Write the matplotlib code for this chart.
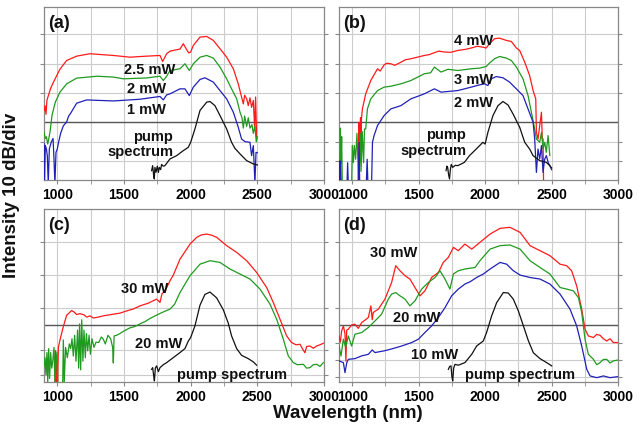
import matplotlib
matplotlib.use("Agg")
import matplotlib.pyplot as plt
import numpy as np

plt.rcParams["font.family"] = ["Liberation Sans", "DejaVu Sans"]
plt.rcParams["font.weight"] = "bold"

# ── Data: (wavelength nm, relative intensity, 0-100 of panel height) ─────────
A_RED = [(900, 40), (907, 43), (915, 38), (922, 46), (932, 48.6), (950, 53), (970, 56.4),
         (1020, 64.1), (1070, 69.1), (1145, 71.6), (1245, 73), (1330, 72.5), (1420, 72),
         (1545, 71), (1670, 71.6), (1770, 72), (1790, 68.5), (1820, 73), (1845, 74.5),
         (1920, 75.7), (1945, 78.8), (1965, 76), (1985, 73.5), (2000, 74), (2020, 77.8),
         (2070, 82.6), (2120, 83), (2170, 80.7), (2220, 75.9), (2270, 71), (2320, 64.3),
         (2357, 55.6), (2382, 47.9), (2395, 44), (2405, 49), (2420, 47), (2432, 43),
         (2445, 47.5), (2457, 42), (2470, 46), (2480, 30), (2487, 48), (2495, 24)]
A_GREEN = [(900, 27.6), (910, 24), (918, 25), (928, 20.8), (945, 27.6), (960, 37.3), (985, 45),
           (1020, 50.8), (1070, 55.6), (1145, 58.9), (1300, 60), (1420, 59.5), (1495, 58.5),
           (1670, 59), (1770, 60), (1795, 57.5), (1820, 60), (1845, 63.3), (1920, 64.3),
           (1957, 67.2), (1990, 63.3), (2020, 67.2), (2070, 71), (2120, 72), (2170, 70.5),
           (2220, 65.3), (2270, 58.5), (2307, 52.7), (2345, 47), (2370, 39.2), (2385, 36),
           (2395, 30), (2405, 37), (2420, 31), (2432, 36), (2445, 30), (2460, 32), (2470, 27),
           (2482, 31), (2492, 22), (2500, 25)]
A_BLUE = [(900, 21), (904, -2), (910, 20), (918, 18), (925, 14), (932, -2), (940, 18), (955, 22),
          (968, 24), (975, 12), (982, -2), (990, 16), (1000, 18), (1010, 22), (1025, 27),
          (1045, 31.3), (1070, 33.6), (1085, 37), (1100, 38.6), (1145, 44.4), (1220, 46.3),
          (1420, 45.7), (1620, 46.7), (1770, 48.3), (1795, 46.3), (1820, 49.2), (1845, 49.8),
          (1920, 52.7), (1957, 52.7), (1990, 48.8), (2020, 53.7), (2070, 58.1), (2107, 59.1),
          (2170, 56.6), (2220, 51.7), (2270, 46.9), (2320, 39.2), (2357, 30.5), (2382, 23.7),
          (2407, 22.2), (2445, 21.8), (2457, 14.1), (2470, 19.9), (2482, -2), (2490, 16),
          (2500, 15.8)]
A_PUMP = [(1707, 5.4), (1715, 8.3), (1722, 3), (1727, 0.6), (1732, 7.3), (1740, 4.5), (1750, 8),
          (1758, 4.4), (1765, 7.3), (1775, 6), (1782, 9), (1795, 8), (1807, 8.3), (1845, 12.2),
          (1895, 14.1), (1945, 17), (1982, 18.9), (2000, 21.8), (2032, 29.5), (2070, 40.2),
          (2120, 45), (2145, 45.4), (2182, 43), (2220, 37.3), (2270, 29.5), (2307, 21.8),
          (2332, 18.3), (2370, 15.1), (2420, 11.2), (2470, 9.3), (2500, 8.7)]

B_RED = [(1045, -3), (1051, 33.4), (1056, 14.1), (1062, 36), (1066, 18), (1069, 35.3),
         (1076, 41.1), (1101, 49.8), (1139, 57.5), (1190, 64.3), (1210, 63), (1240, 66.6),
         (1260, 67.5), (1290, 67.2), (1320, 66.3), (1366, 68.1), (1400, 69.5), (1441, 70.1),
         (1480, 70.8), (1542, 72), (1580, 72.5), (1618, 73.6), (1650, 74.5), (1693, 74),
         (1740, 73.8), (1794, 74.9), (1850, 75.5), (1895, 76.3), (1940, 77.3), (1983, 76.8),
         (2008, 76.3), (2033, 78.8), (2071, 81.7), (2109, 82), (2159, 80.7), (2197, 80.1),
         (2235, 76.3), (2260, 74.9), (2298, 68.1), (2335, 60.4), (2361, 51.7), (2381, 46.9),
         (2386, 27.6), (2398, 23.7), (2411, 31.5), (2424, 39.2), (2430, 24), (2436, 23.7),
         (2440, -3)]
B_GREEN = [(900, -3), (905, -3), (910, 30), (915, 10), (920, 25), (925, -3), (995, -3), (1000, 20),
           (1008, 10), (1015, 20), (1025, 12), (1035, 27), (1045, 5), (1050, -3), (1060, 27),
           (1066, 5), (1075, 28), (1085, 10), (1092, 29.5), (1101, 29.5), (1114, 41.1),
           (1139, 46.9), (1190, 51.7), (1240, 53.7), (1290, 54.2), (1366, 55.6), (1441, 57.5),
           (1542, 61.4), (1590, 62), (1618, 65.3), (1668, 62.4), (1720, 64), (1794, 63.3),
           (1895, 64.3), (1958, 64.7), (2008, 65.6), (2033, 67.6), (2071, 70.1), (2109, 71.4),
           (2159, 70.5), (2197, 69.1), (2235, 65.3), (2285, 58.5), (2323, 48.8), (2348, 39.2),
           (2373, 29.5), (2386, 23.7), (2411, 21.8), (2424, 27.6), (2436, 18), (2449, 21.8),
           (2460, 16), (2474, 25.7), (2487, 14.1)]
B_BLUE = [(900, -3), (903, 11), (908, 0), (912, 11), (916, -3), (960, -3), (965, 10), (970, -3),
          (1045, -3), (1051, 21.8), (1056, -3), (1105, -3), (1112, 12), (1118, -3), (1145, -3),
          (1152, 21.8), (1164, 25.7), (1190, 31.5), (1240, 37.3), (1290, 41.1), (1366, 43),
          (1441, 46.9), (1542, 49.8), (1618, 52.7), (1668, 50.8), (1794, 51.7), (1895, 53.7),
          (1958, 55), (1996, 55.6), (2021, 54.6), (2046, 58.5), (2084, 59.8), (2134, 59.1),
          (2184, 56.6), (2235, 52.7), (2285, 48.8), (2323, 41.1), (2361, 33.4), (2373, 23.7),
          (2386, 4.4), (2398, 17.9), (2411, 12.2), (2424, 19.9), (2436, 4.4), (2448, 12),
          (2461, 14.1), (2475, 10), (2487, 8.3), (2500, 6)]
B_PUMP = [(1706, 5.4), (1712, 8), (1718, 7.3), (1725, 3), (1732, 0.6), (1738, 6), (1745, 9),
          (1756, 7.3), (1775, 8.5), (1794, 8.3), (1844, 10.2), (1882, 14.1), (1933, 17.9),
          (1983, 21.8), (2000, 20.8), (2021, 27.6), (2059, 37.3), (2097, 43), (2134, 45.4),
          (2172, 43.4), (2210, 38.2), (2260, 30.5), (2298, 21.8), (2335, 17.9), (2361, 14.1),
          (2411, 11.2), (2461, 10.2), (2487, 8.3), (2500, 7)]

C_RED = [(975, -3), (982, 0), (986, 18), (990, 0), (996, 12), (1002, -3), (1008, 20), (1020, 24.3),
         (1045, 32), (1070, 38.6), (1090, 40), (1107, 41.3), (1125, 40.5), (1145, 39), (1170, 39.5),
         (1200, 38.8), (1220, 37.5), (1245, 38.2), (1270, 37), (1295, 37.3), (1350, 38.3),
         (1420, 39.2), (1470, 39.8), (1520, 41.1), (1570, 42.2), (1620, 44), (1680, 45.5),
         (1745, 47.9), (1770, 46), (1785, 51), (1795, 51.7), (1820, 54.5), (1845, 58.5),
         (1870, 61.8), (1920, 71), (1995, 79.7), (2045, 83.6), (2080, 85), (2120, 85.5),
         (2160, 84.8), (2195, 83.6), (2270, 78.8), (2345, 74.9), (2420, 70.1), (2495, 63.3),
         (2570, 54.6), (2620, 45.9), (2670, 36.3), (2720, 26.6), (2757, 22.8), (2790, 21.5),
         (2820, 21.8), (2840, 19), (2857, 16.9), (2870, 20.5), (2895, 20.8), (2920, 19.5),
         (2945, 20.8), (2970, 21.5), (2995, 22.4)]
C_GREEN = [(900, 9.3), (908, 14), (915, 4), (922, 17), (928, 0), (935, 19.3), (942, 2), (950, 17),
           (958, 8), (965, 11.6), (975, 20), (983, -3), (990, 12), (998, 17.4), (1005, -3),
           (1040, -3), (1045, 24.3), (1052, 0), (1062, 20), (1075, 14), (1090, 22), (1100, 19.3),
           (1110, 25), (1120, 15), (1130, 27), (1140, 12), (1152, 30), (1160, 8), (1167, 33.6),
           (1175, 7), (1183, 36), (1192, 12), (1200, 30), (1210, 14), (1218, 28), (1228, 18),
           (1238, 27), (1248, 16), (1260, 25), (1275, 20), (1290, 23), (1310, 22.8), (1330, 26),
           (1345, 24.7), (1360, 22), (1380, 27), (1400, 25), (1415, 20), (1420, 11), (1426, 26.6),
           (1445, 27), (1470, 28), (1495, 29.3), (1545, 31.3), (1580, 32), (1620, 33.6),
           (1660, 35), (1695, 36.7), (1740, 38.5), (1795, 40.5), (1845, 42.1), (1880, 45),
           (1920, 51.7), (1995, 61.4), (2070, 68.1), (2145, 70.1), (2220, 69.1), (2295, 65.3),
           (2370, 62.4), (2445, 59.5), (2520, 53.7), (2595, 45), (2645, 36.3), (2695, 24.7),
           (2732, 15.1), (2770, 11.2), (2800, 10), (2845, 10.2), (2870, 8), (2895, 8.3),
           (2920, 10), (2945, 10.2), (2970, 9), (2995, 11.2)]
C_PUMP = [(1707, 7.3), (1715, 8.3), (1722, 4), (1728, 0.6), (1735, 8), (1745, 9.3), (1758, 6),
          (1770, 8.3), (1795, 10), (1820, 11.2), (1870, 14.1), (1920, 17), (1957, 19.3),
          (1982, 23.6), (2000, 25.7), (2032, 32.4), (2070, 44.4), (2107, 50.6), (2145, 52),
          (2195, 48.6), (2245, 41.7), (2282, 34), (2307, 26.6), (2345, 19.3), (2382, 15.4),
          (2432, 13.5), (2470, 11.6), (2495, 9.7)]

D_RED = [(900, 26.6), (910, 23), (920, 29.5), (933, 32.4), (945, 28), (952, 12), (958, 30),
         (970, 30.5), (995, 33), (1020, 33.4), (1045, 31), (1071, 34.4), (1100, 36), (1121, 37.3),
         (1140, 44), (1150, 36), (1158, 40.2), (1196, 42.1), (1246, 47.9), (1296, 57.5),
         (1327, 67.2), (1359, 64.3), (1397, 61.4), (1434, 59.5), (1472, 54.6), (1510, 49.8),
         (1547, 52.7), (1597, 60.4), (1648, 63.3), (1685, 69.1), (1723, 72), (1761, 77.8),
         (1798, 75.9), (1848, 79.7), (1899, 76.8), (1961, 80.7), (2037, 85.5), (2112, 88.8),
         (2187, 89.4), (2263, 86.5), (2338, 78.8), (2413, 75.9), (2488, 73), (2564, 68.1),
         (2614, 67.2), (2651, 64.3), (2689, 55.6), (2727, 42.1), (2752, 30.5), (2777, 26.6),
         (2815, 25.7), (2840, 27.5), (2865, 27), (2890, 25), (2915, 23.7), (2940, 25),
         (2965, 22.8), (3000, 22.8)]
D_GREEN = [(900, 20.8), (915, 15), (933, 24.7), (950, 20), (970, 26.6), (995, 20.8), (1020, 27.6),
           (1071, 28.6), (1121, 31.5), (1171, 35.3), (1221, 39.2), (1271, 47.9), (1296, 50.8),
           (1327, 51.7), (1359, 49.8), (1397, 47.9), (1434, 44), (1472, 46.9), (1522, 53.7),
           (1572, 57.5), (1623, 60.4), (1660, 64.3), (1698, 59.5), (1735, 53.7), (1761, 62.4),
           (1798, 64.3), (1848, 65.3), (1924, 66.2), (1961, 70.1), (2037, 76.8), (2112, 78.8),
           (2187, 79.2), (2263, 76.8), (2338, 70.1), (2413, 66.2), (2488, 62.4), (2564, 54.6),
           (2614, 53.7), (2664, 52.7), (2702, 48.8), (2727, 40.2), (2752, 24.7), (2777, 16),
           (2815, 13.1), (2840, 10), (2865, 11.2), (2890, 13), (2915, 13.1), (2940, 11),
           (2965, 12.2), (3000, 12.7)]
D_BLUE = [(900, 12.2), (933, 11.2), (945, 5.4), (958, 11), (970, 13.1), (1020, 13.5), (1071, 15.1),
          (1121, 16), (1150, 18.5), (1171, 17), (1246, 18.1), (1296, 19.1), (1372, 20.8),
          (1447, 22.8), (1497, 24.7), (1547, 28.6), (1597, 32.4), (1648, 37.3), (1698, 43),
          (1748, 49.8), (1798, 53.7), (1848, 56.6), (1886, 57.9), (1936, 60.4), (1986, 62.4),
          (2037, 65.3), (2112, 69.1), (2162, 68.1), (2212, 64.3), (2263, 61.8), (2338, 60.4),
          (2413, 59.5), (2488, 56.6), (2564, 50.8), (2639, 42.1), (2689, 32.4), (2727, 20.8),
          (2765, 7.3), (2790, 3.5), (2840, 2.5), (2890, 3.5), (2940, 2.5), (3000, 3.1)]
D_PUMP = [(1723, 7.3), (1733, 9), (1743, 9.3), (1750, 3), (1756, 0.6), (1763, 8), (1773, 10.2),
          (1798, 9.7), (1848, 11.2), (1899, 16), (1936, 20.8), (1986, 23.7), (2011, 28.6),
          (2049, 38.2), (2087, 45.9), (2137, 51.7), (2174, 51.4), (2212, 47.9), (2250, 41.1),
          (2288, 32.4), (2326, 23.7), (2363, 16.9), (2413, 13.5), (2463, 11.2), (2501, 9.3)]

# gridline levels (same 0-100 scale), the darker reference line
AB_GRID = [11.2, 22.2, 50.2, 67.2, 84.5]
C_GRID = [3.9, 18.5, 42.8, 61.8, 80.7]
D_GRID = [2.7, 12.6, 22.8, 42.8, 61.8, 80.7]
AB_DARK = 33.8
CD_DARK = 33.2

# labels: (text, wavelength, level, ha)
A_LABELS = [("2.5 mW", 1695, 64.3, "center"), ("2 mW", 1672, 53.3, "center"),
            ("1 mW", 1672, 41.1, "center"), ("pump\nspectrum", 1868, 21.1, "right")]
B_LABELS = [("4 mW", 1912, 80.7, "center"), ("3 mW", 1912, 58.5, "center"),
            ("2 mW", 1912, 45.0, "center"), ("pump\nspectrum", 1857, 22.1, "right")]
C_LABELS = [("30 mW", 1658, 54.1, "center"), ("20 mW", 1757, 22.4, "center"),
            ("pump spectrum", 2308, 4.5, "center")]
D_LABELS = [("30 mW", 1309, 74.9, "center"), ("20 mW", 1485, 37.3, "center"),
            ("10 mW", 1623, 16.0, "center"), ("pump spectrum", 2262, 4.5, "center")]

RED, GREEN, BLUE, BLACK = "#ff1a1a", "#1f9a1f", "#2020b8", "#111111"

fig = plt.figure(figsize=(6.44, 4.31), dpi=100)

panels = [
    ("(a)", [0.0683, 0.580, 0.4348, 0.4014], [(A_RED, RED), (A_GREEN, GREEN), (A_BLUE, BLUE), (A_PUMP, BLACK)], AB_GRID, AB_DARK, A_LABELS),
    ("(b)", [0.5264, 0.580, 0.4332, 0.4014], [(B_RED, RED), (B_GREEN, GREEN), (B_BLUE, BLUE), (B_PUMP, BLACK)], AB_GRID, AB_DARK, B_LABELS),
    ("(c)", [0.0683, 0.1114, 0.4348, 0.4014], [(C_RED, RED), (C_GREEN, GREEN), (C_PUMP, BLACK)], C_GRID, CD_DARK, C_LABELS),
    ("(d)", [0.5264, 0.1114, 0.4332, 0.4014], [(D_RED, RED), (D_GREEN, GREEN), (D_BLUE, BLUE), (D_PUMP, BLACK)], D_GRID, CD_DARK, D_LABELS),
]

for tag, rect, series, grid, dark, labels in panels:
    ax = fig.add_axes(rect)
    ax.set_xlim(900, 3000)
    ax.set_ylim(0, 100)
    ax.set_xticks([1000, 1500, 2000, 2500, 3000])
    ax.set_xticks([1250, 1750, 2250, 2750], minor=True)
    ax.set_yticks(grid)
    ax.set_yticklabels([])
    ax.grid(True, which="both", color="#cccccc", linewidth=0.8)
    ax.set_axisbelow(True)
    ax.axhline(dark, color="#555555", linewidth=1.0, zorder=1.5)
    ax.tick_params(axis="x", which="both", direction="out", length=3, color="#888888",
                   labelsize=10, pad=2)
    ax.tick_params(axis="y", which="both", direction="out", length=3, color="#888888",
                   left=True, right=True)
    for lab in ax.get_xticklabels():
        lab.set_fontweight("bold")
    for sp in ax.spines.values():
        sp.set_color("#888888")
        sp.set_linewidth(0.9)

    for pts, col in series:
        arr = np.array(pts, dtype=float)
        ax.plot(arr[:, 0], arr[:, 1], color=col, linewidth=0.9, zorder=3)

    for text, x, y, ha in labels:
        ax.text(x, y, text, ha=ha, va="center", multialignment=ha, fontsize=10.5,
                fontweight="bold", color="#111111", zorder=4, linespacing=1.15)

    ax.text(0.015, 0.91, tag, transform=ax.transAxes, ha="left", va="center",
            fontsize=13, fontweight="bold", color="#111111")

fig.text(12 / 644, 1 - 195 / 431, "Intensity 10 dB/div", rotation=90, ha="center", va="center",
         fontsize=13.5, fontweight="bold", color="#111111")
fig.text(348 / 644, 1 - 414 / 431, "Wavelength (nm)", ha="center", va="center",
         fontsize=13.5, fontweight="bold", color="#111111")

fig.savefig("out.png", dpi=100)
